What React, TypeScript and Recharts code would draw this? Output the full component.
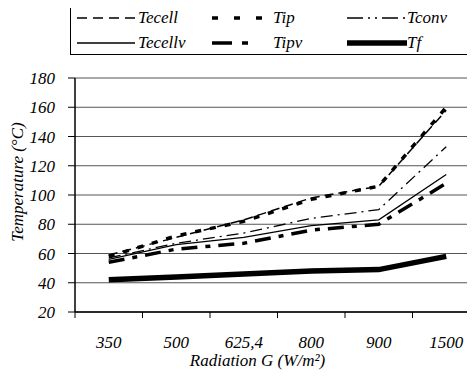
import React from 'react';
import { LineChart, Line, XAxis, YAxis, CartesianGrid } from 'recharts';

const categories = ['350', '500', '625,4', '800', '900', '1500'];
const tecell = [59, 71, 83, 98, 106, 158];
const tip = [58, 72, 82, 97, 106, 160];
const tconv = [57, 67, 74, 84, 90, 133];
const tecellv = [56, 66, 71, 79, 83, 114];
const tipv = [54, 63, 67, 76, 80, 108];
const tf = [42, 44, 46, 48, 49, 58];
const yTicks = [20, 40, 60, 80, 100, 120, 140, 160, 180];
const seriesNames = ['Tecell', 'Tip', 'Tconv', 'Tecellv', 'Tipv', 'Tf'];
const seriesValues = [tecell, tip, tconv, tecellv, tipv, tf];

const data = categories.map((c, i) => {
  const row: any = { cat: c };
  seriesNames.forEach((n, k) => {
    row[n] = seriesValues[k][i];
  });
  return row;
});

const styles: Record<string, { w: number; dash?: string; legendDash?: string }> = {
  Tecell: { w: 1.5, dash: '9 5', legendDash: '10 6' },
  Tip: { w: 3.5, dash: '6 9', legendDash: '6 16' },
  Tconv: { w: 1.3, dash: '12 5 2 5', legendDash: '16 5 2 5 2 5' },
  Tecellv: { w: 1.3 },
  Tipv: { w: 3.5, dash: '16 8 5 8', legendDash: '20 10 6 20' },
  Tf: { w: 5.5 },
};

const FONT = '"Liberation Serif"';
const CHART_W = 480;
const LEFT = 75;
const BAND = (CHART_W - LEFT) / categories.length;

const XTick = (props: any) => {
  const { x, y, payload } = props;
  return (
    <g>
      <line x1={x - BAND / 2} x2={x - BAND / 2} y1={y} y2={y + 6} stroke="#000" strokeWidth={1} />
      <text x={x} y={y + 36} textAnchor="middle" style={{ fontFamily: FONT, fontStyle: 'italic', fontSize: 17 }} fill="#000">
        {payload.value}
      </text>
    </g>
  );
};

const YTick = (props: any) => {
  const { x, y, payload } = props;
  return (
    <text x={x} y={y} dy={6} textAnchor="end" style={{ fontFamily: FONT, fontStyle: 'italic', fontSize: 17 }} fill="#000">
      {payload.value}
    </text>
  );
};

const legendCols = [
  { sample: 58, text: 3 },
  { sample: 50, text: 11 },
  { sample: 60, text: 0 },
];

const ChartLegend = () => (
  <div
    style={{
      position: 'relative',
      zIndex: 1,
      margin: '4px 0 0 70px',
      width: 402,
      height: 51,
      border: '1px solid #000',
      boxSizing: 'border-box',
      background: '#fff',
      fontFamily: FONT,
      fontStyle: 'italic',
      fontSize: 17,
    }}
  >
    {seriesNames.map((n, i) => {
      const col = i % 3;
      const row = Math.floor(i / 3);
      const s = styles[n];
      const cfg = legendCols[col];
      return (
        <div
          key={n}
          style={{
            position: 'absolute',
            left: 6 + col * 135,
            top: row * 25 + 1,
            height: 24,
            display: 'flex',
            alignItems: 'center',
            whiteSpace: 'nowrap',
          }}
        >
          <svg width={cfg.sample} height={10} style={{ display: 'block' }}>
            <line x1={0} x2={cfg.sample} y1={5} y2={5} stroke="#000" strokeWidth={s.w} strokeDasharray={s.legendDash} />
          </svg>
          <span style={{ marginLeft: cfg.text, lineHeight: '24px' }}>{n}</span>
        </div>
      );
    })}
  </div>
);

export default function App() {
  return (
    <div style={{ margin: -8, width: 475, height: 378, overflow: 'hidden', background: '#fff' }}>
      <ChartLegend />
      <div style={{ marginTop: -55 }}>
        <LineChart width={CHART_W} height={378} data={data} margin={{ top: 78, right: 0, bottom: 0, left: 0 }}>
          <CartesianGrid vertical={false} stroke="#555" strokeWidth={1} />
          <XAxis
            dataKey="cat"
            height={66}
            padding={{ left: BAND / 2, right: BAND / 2 }}
            tickLine={false}
            tickSize={0}
            tickMargin={0}
            axisLine={{ stroke: '#000', strokeWidth: 1.5 }}
            tick={<XTick />}
            interval={0}
            label={(p: any) => {
              const vb = p.viewBox || {};
              return (
                <text x={vb.x + vb.width / 2 - 20} y={vb.y + 54} textAnchor="middle" style={{ fontFamily: FONT, fontStyle: 'italic', fontSize: 17 }} fill="#000">
                  Radiation G (W/m²)
                </text>
              );
            }}
          />
          <YAxis
            width={LEFT}
            domain={[20, 180]}
            ticks={yTicks}
            interval={0}
            tickSize={7}
            tickMargin={13}
            tickLine={{ stroke: '#000' }}
            axisLine={{ stroke: '#000', strokeWidth: 1.5 }}
            tick={<YTick />}
            label={(p: any) => {
              const vb = p.viewBox || {};
              const cx = 17;
              const cy = vb.y + vb.height / 2 - 13;
              return (
                <text
                  x={cx}
                  y={cy}
                  transform={`rotate(-90 ${cx} ${cy})`}
                  textAnchor="middle"
                  dominantBaseline="central"
                  style={{ fontFamily: FONT, fontStyle: 'italic', fontSize: 17 }}
                  fill="#000"
                >
                  Temperature (°C)
                </text>
              );
            }}
          />
          {seriesNames.map((n) => (
            <Line
              key={n}
              dataKey={n}
              stroke="#000"
              strokeWidth={styles[n].w}
              strokeDasharray={styles[n].dash}
              dot={false}
              isAnimationActive={false}
            />
          ))}
        </LineChart>
      </div>
    </div>
  );
}
